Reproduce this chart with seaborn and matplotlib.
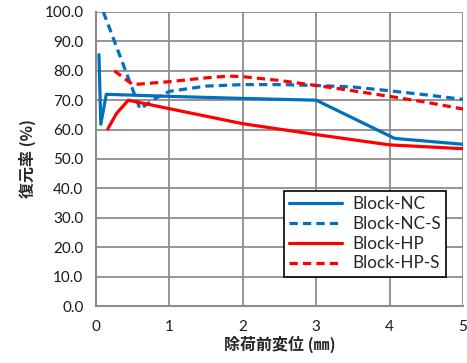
import matplotlib
matplotlib.use("Agg")
import matplotlib.pyplot as plt
import seaborn as sns
import pandas as pd

# Recovery rate vs. displacement before unloading
nc_x = [0.04, 0.065, 0.14, 1.0, 2.0, 3.0, 4.07, 5.0]
nc_y = [85.5, 61.8, 72.0, 71.3, 70.6, 70.0, 57.0, 55.0]

nc_s_x = [0.1, 0.6, 0.8, 1.0, 1.5, 2.0, 2.5, 3.0, 3.5, 4.0, 4.5, 5.0]
nc_s_y = [100.0, 67.0, 70.5, 73.0, 74.8, 75.3, 75.3, 75.0, 74.5, 73.2, 71.8, 70.3]

hp_x = [0.16, 0.28, 0.44, 1.0, 2.0, 3.0, 4.0, 5.0]
hp_y = [60.2, 65.5, 70.0, 67.1, 62.0, 58.3, 54.8, 53.5]

hp_s_x = [0.25, 0.5, 1.0, 1.5, 1.8, 2.0, 2.5, 3.0, 3.5, 4.0, 4.5, 5.0]
hp_s_y = [80.0, 75.3, 76.3, 77.6, 78.2, 78.0, 76.7, 75.0, 73.2, 71.3, 69.3, 67.0]

series = ["Block-NC", "Block-NC-S", "Block-HP", "Block-HP-S"]
colors = ["#0070C0", "#0070C0", "#FF0000", "#FF0000"]
dashed = [False, True, False, True]

x_ticks = [0, 1, 2, 3, 4, 5]
y_ticks = [0, 10, 20, 30, 40, 50, 60, 70, 80, 90, 100]

frames = []
for name, xs, ys in zip(series, [nc_x, nc_s_x, hp_x, hp_s_x], [nc_y, nc_s_y, hp_y, hp_s_y]):
    frames.append(pd.DataFrame({"x": xs, "y": ys, "series": name}))
df = pd.concat(frames, ignore_index=True)

sns.set_style("white")
plt.rcParams['font.family'] = ['Lato', 'DejaVu Sans']

fig = plt.figure(figsize=(4.67, 3.63), dpi=100)
ax = fig.add_axes([0.2056, 0.157, 0.7858, 0.81])

sns.lineplot(
    data=df, x="x", y="y", hue="series", style="series",
    hue_order=series, style_order=series,
    palette=dict(zip(series, colors)),
    dashes={s: ((2.6, 1.6) if d else "") for s, d in zip(series, dashed)},
    linewidth=2.3, sort=False, estimator=None, ax=ax,
)

ax.set_xlim(0, 5)
ax.set_ylim(0, 100)
ax.set_xticks(x_ticks)
ax.set_xticklabels([str(t) for t in x_ticks])
ax.set_yticks(y_ticks)
ax.set_yticklabels([f"{t:.1f}" for t in y_ticks])
ax.grid(True, color="#8c8c8c", linewidth=1.3)
ax.set_axisbelow(True)
for sp in ["top", "right"]:
    ax.spines[sp].set_visible(False)
for sp in ["left", "bottom"]:
    ax.spines[sp].set_color("#8c8c8c")
    ax.spines[sp].set_linewidth(1.5)
ax.tick_params(axis="both", which="both", direction="out", length=5, width=1.3,
               color="#8c8c8c", labelsize=11, labelcolor="#1a1a1a", pad=4)
ax.tick_params(axis="x", pad=5)

cjk = ['Noto Sans CJK JP', 'DejaVu Sans']
ax.set_xlabel("除荷前変位 (㎜)", family=cjk, fontweight="bold", fontsize=11.5, labelpad=1)
ax.set_ylabel("復元率 (%)", family=cjk, fontweight="bold", fontsize=11.5, labelpad=6)

leg = ax.legend(loc="lower right", bbox_to_anchor=(0.955, 0.1), frameon=True,
                fancybox=False, edgecolor="black", fontsize=12.3, handlelength=3.1,
                labelspacing=0.22, borderpad=0.3, handletextpad=0.6, borderaxespad=0)
leg.get_frame().set_linewidth(1.2)
leg.get_frame().set_alpha(1)

fig.savefig("out.png", dpi=100)
